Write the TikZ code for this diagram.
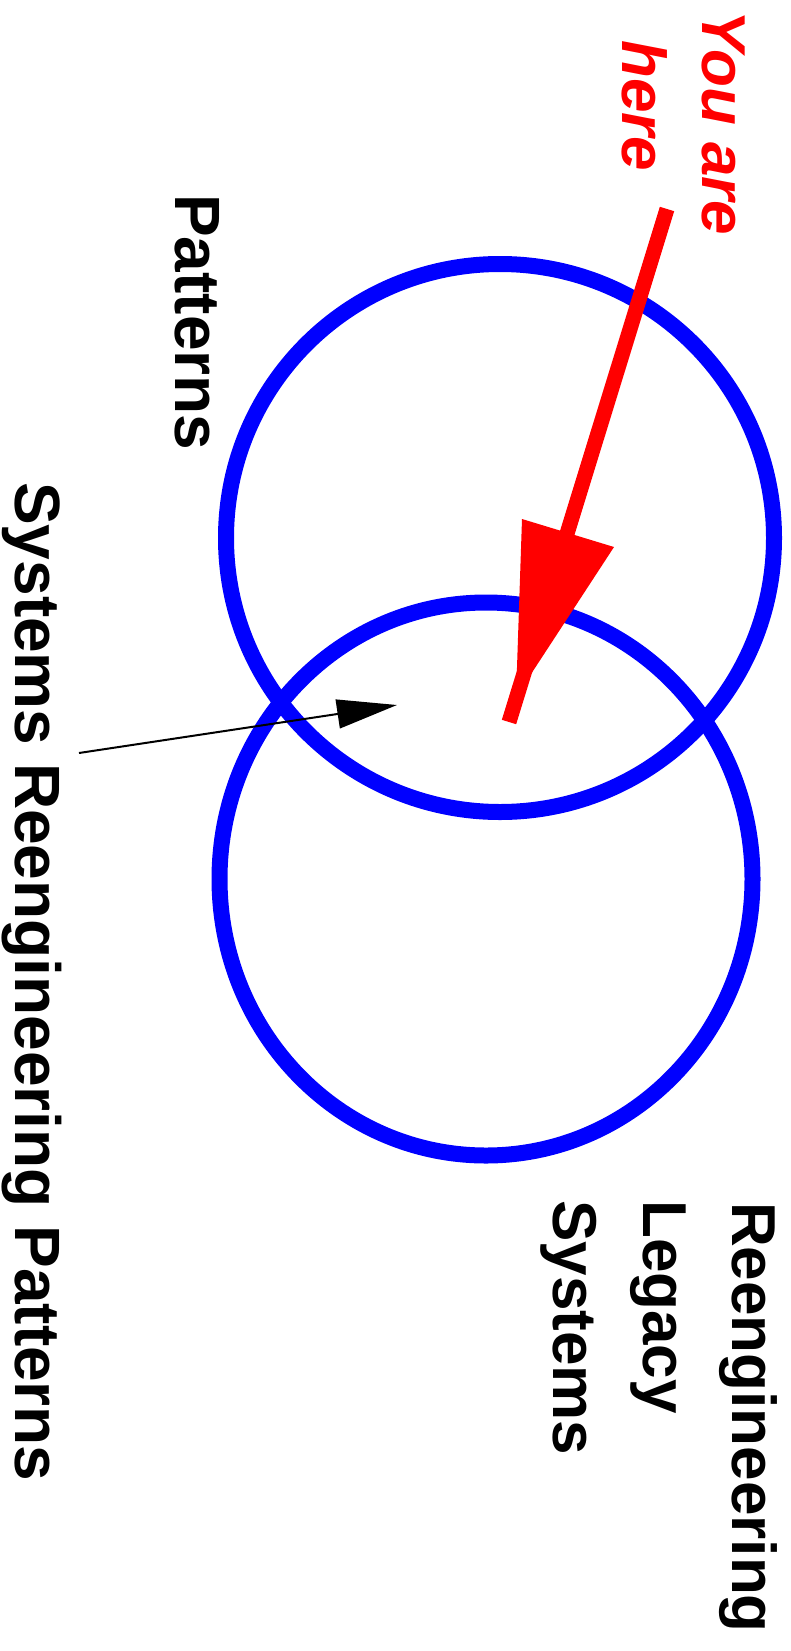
\documentclass[tikz,border=0pt]{standalone}
\usepackage{fontspec}
\setmainfont{Liberation Sans}
\usetikzlibrary{arrows.meta,shapes.geometric}
\begin{document}
\begin{tikzpicture}[x=1pt,y=-1pt,
  lbl/.style={inner sep=0pt, rotate=-90, anchor=base west, font=\fontsize{62}{70}\selectfont\bfseries},
  biglbl/.style={lbl, font=\fontsize{64}{70}\selectfont\bfseries},
  redlbl/.style={lbl, text=red, font=\fontsize{62}{70}\selectfont\bfseries\itshape},
  ring/.style={draw=blue, line width=16pt, inner sep=0pt}]
\useasboundingbox (0,0) rectangle (791,1651);
\node[ring, circle, minimum size=548pt] (patc) at (500,538) {};
\node[ring, ellipse, minimum width=533pt, minimum height=553pt] (legc) at (486,879) {};
% red arrow
\coordinate (rs) at (667,209);
\coordinate (re) at (509,722);
\draw[red, line width=15pt] (rs) -- (re);
\fill[red] (522,519) -- (614,547) -- (516,697) -- cycle;
% black arrow
\coordinate (bt) at (79,753);
\coordinate (bh) at (397,705);
\draw[line width=2pt, -{Triangle[length=60pt,width=29pt]}] (bt) -- (bh);
% labels
\node[redlbl] (you) at (702,10) {You are};
\node[redlbl] (here) at (622,40) {here};
\node[biglbl] (pat) at (175,194) {Patterns};
\node[biglbl] (srp) at (15,482) {Systems Reengineering Patterns};
\node[lbl] (r1) at (732,1202) {Reengineering};
\node[lbl] (r2) at (643,1200) {Legacy};
\node[lbl] (r3) at (553,1200) {Systems};
\end{tikzpicture}
\end{document}
